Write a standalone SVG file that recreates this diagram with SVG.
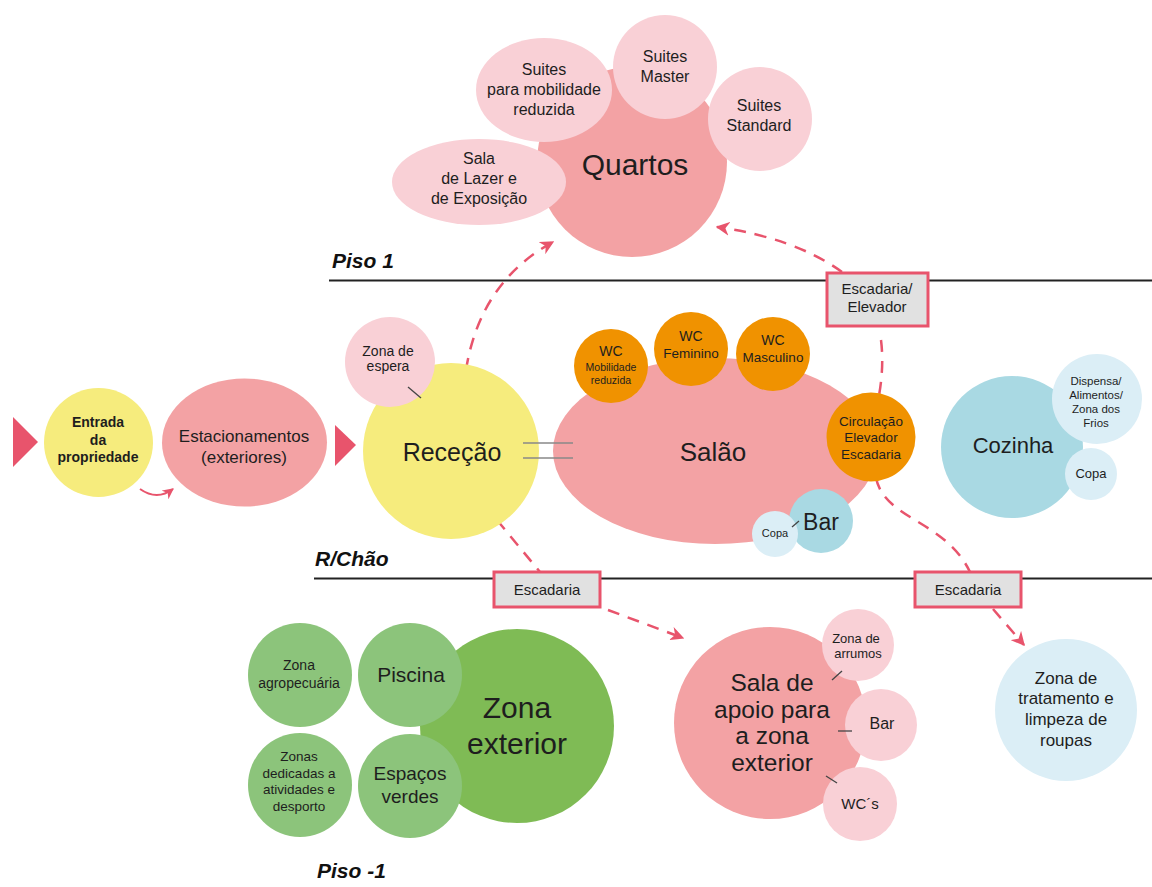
<svg xmlns="http://www.w3.org/2000/svg" width="1152" height="887" viewBox="0 0 1152 887">
<defs>
<style>
text{font-family:"Liberation Sans",Arial,sans-serif;fill:#1e1e1e;text-anchor:middle}
.lbl{font-weight:bold;font-style:italic;text-anchor:start;fill:#111}
.salmon{fill:#f3a2a4}
.lpink{fill:#f9d0d6}
.yellow{fill:#f6ec7d}
.orange{fill:#f09200}
.blue{fill:#a9d9e3}
.lblue{fill:#dbeef6}
.dgreen{fill:#7fbb55}
.lgreen{fill:#8cc47b}
.floor{stroke:#222;stroke-width:2;fill:none}
.dash{stroke:#e8546c;stroke-width:2.5;fill:none;stroke-dasharray:12 9}
.tick{stroke:#444;stroke-width:1.3}
.box{fill:#e1e1e1;stroke:#e8546c;stroke-width:3}
.tri{fill:#e8546c}
</style>
<marker id="ah" viewBox="0 0 10 10" refX="9" refY="5" markerWidth="14" markerHeight="14" markerUnits="userSpaceOnUse" orient="auto">
<path d="M0,0 L10,5 L0,10 L3,5 z" fill="#e8546c"/>
</marker>
<marker id="ahs" viewBox="0 0 10 10" refX="9" refY="5" markerWidth="11" markerHeight="11" markerUnits="userSpaceOnUse" orient="auto">
<path d="M0,0 L10,5 L0,10 L3,5 z" fill="#e8546c"/>
</marker>
</defs>
<rect width="1152" height="887" fill="#ffffff"/>

<g id="floors">
<line class="floor" x1="329" y1="280.5" x2="1152" y2="280.5"/>
<line class="floor" x1="314" y1="578.5" x2="1152" y2="578.5"/>
<text class="lbl" x="332" y="268" font-size="21">Piso 1</text>
<text class="lbl" x="315" y="566" font-size="21">R/Chão</text>
<text class="lbl" x="317" y="878" font-size="21">Piso -1</text>
</g>

<g id="connectors">
<path class="dash" d="M466 370 Q480 282 553 242" marker-end="url(#ah)"/>
<path class="dash" d="M842 272 Q795 238 717 227" marker-end="url(#ah)"/>
<path class="dash" d="M881 340 Q885 372 876 410"/>
<path class="dash" d="M876 478 C885 520 945 520 970 572"/>
<path class="dash" d="M993 609 L1024 645" marker-end="url(#ah)"/>
<path class="dash" d="M497 520 L540 572"/>
<path class="dash" d="M608 610 L683 638" marker-end="url(#ah)"/>
<path d="M140 489 Q157 501 173 489" stroke="#e8546c" stroke-width="2" fill="none" marker-end="url(#ahs)"/>
</g>

<g id="entry-arrows">
<polygon class="tri" points="13,417 38,442 13,467"/>
<polygon class="tri" points="335,425 356,445 335,466"/>
</g>

<g id="quartos">
<circle class="salmon" cx="632" cy="162" r="95"/>
<text x="635" y="175" font-size="30">Quartos</text>
</g>
<g id="suites-mobilidade">
<ellipse class="lpink" cx="544" cy="90" rx="68" ry="52"/>
<text x="544" y="75" font-size="16">Suites</text>
<text x="544" y="95" font-size="16">para mobilidade</text>
<text x="544" y="115" font-size="16">reduzida</text>
</g>
<g id="suites-master">
<circle class="lpink" cx="665" cy="67" r="52"/>
<text x="665" y="62" font-size="16">Suites</text>
<text x="665" y="82" font-size="16">Master</text>
</g>
<g id="suites-standard">
<circle class="lpink" cx="760" cy="119" r="52"/>
<text x="759" y="111" font-size="16">Suites</text>
<text x="759" y="131" font-size="16">Standard</text>
</g>
<g id="sala-lazer">
<ellipse class="lpink" cx="479" cy="182" rx="87" ry="43"/>
<text x="479" y="164" font-size="16">Sala</text>
<text x="479" y="184" font-size="16">de Lazer e</text>
<text x="479" y="204" font-size="16">de Exposição</text>
</g>

<g id="escadaria-elevador">
<rect class="box" x="827" y="273" width="101" height="53"/>
<text x="877" y="294" font-size="15">Escadaria/</text>
<text x="877" y="312" font-size="15">Elevador</text>
</g>

<g id="entrada">
<circle class="yellow" cx="98.5" cy="442.5" r="54.5"/>
<text x="98" y="427" font-size="14" font-weight="bold">Entrada</text>
<text x="98" y="445" font-size="14" font-weight="bold">da</text>
<text x="98" y="462" font-size="14" font-weight="bold">propriedade</text>
</g>
<g id="estacionamentos">
<ellipse class="salmon" cx="244.5" cy="442.5" rx="82.5" ry="64"/>
<text x="244" y="442" font-size="17">Estacionamentos</text>
<text x="244" y="463" font-size="17">(exteriores)</text>
</g>
<g id="rececao">
<circle class="yellow" cx="451" cy="451" r="88"/>
<text x="452" y="461" font-size="25">Receção</text>
</g>
<g id="zona-espera">
<circle class="lpink" cx="390" cy="362" r="45"/>
<text x="388" y="356" font-size="14">Zona de</text>
<text x="388" y="371" font-size="14">espera</text>
<line class="tick" x1="408" y1="387" x2="421" y2="398"/>
</g>

<g id="salao">
<ellipse class="salmon" cx="715" cy="451" rx="162" ry="93"/>
<text x="713" y="461" font-size="26">Salão</text>
</g>
<g id="rececao-salao-link">
<line x1="523" y1="443" x2="573" y2="443" stroke="#888" stroke-width="1.5"/>
<line x1="523" y1="458" x2="573" y2="458" stroke="#888" stroke-width="1.5"/>
</g>
<g id="wc-mobilidade">
<circle class="orange" cx="611" cy="366" r="37"/>
<text x="611" y="356" font-size="14">WC</text>
<text x="611" y="371" font-size="10.5">Mobilidade</text>
<text x="611" y="384" font-size="10.5">reduzida</text>
</g>
<g id="wc-feminino">
<circle class="orange" cx="691" cy="349" r="37"/>
<text x="691" y="341" font-size="14">WC</text>
<text x="691" y="358" font-size="13.5">Feminino</text>
</g>
<g id="wc-masculino">
<circle class="orange" cx="773" cy="354" r="37"/>
<text x="773" y="345" font-size="14">WC</text>
<text x="773" y="362" font-size="13.5">Masculino</text>
</g>
<g id="circulacao">
<circle class="orange" cx="871" cy="437" r="44.5"/>
<text x="871" y="426" font-size="13.5">Circulação</text>
<text x="871" y="442" font-size="13.5">Elevador</text>
<text x="871" y="459" font-size="13.5">Escadaria</text>
</g>
<g id="bar">
<circle class="blue" cx="821" cy="521" r="32"/>
<text x="821" y="530" font-size="23">Bar</text>
</g>
<g id="copa-bar">
<circle class="lblue" cx="775" cy="534" r="23"/>
<text x="775" y="537" font-size="11">Copa</text>
<line class="tick" x1="792" y1="527" x2="799" y2="521"/>
</g>

<g id="cozinha">
<circle class="blue" cx="1012" cy="447" r="71"/>
<text x="1013" y="453" font-size="22">Cozinha</text>
</g>
<g id="dispensa">
<circle class="lblue" cx="1097" cy="399" r="45"/>
<text x="1096" y="385" font-size="11.5">Dispensa/</text>
<text x="1096" y="399" font-size="11.5">Alimentos/</text>
<text x="1096" y="413" font-size="11.5">Zona dos</text>
<text x="1096" y="427" font-size="11.5">Frios</text>
</g>
<g id="copa-cozinha">
<circle class="lblue" cx="1091" cy="474" r="26"/>
<text x="1091" y="478" font-size="13">Copa</text>
</g>

<g id="escadaria-1">
<rect class="box" x="494" y="572" width="106" height="35"/>
<text x="547" y="595" font-size="15">Escadaria</text>
</g>
<g id="escadaria-2">
<rect class="box" x="915" y="572" width="106" height="35"/>
<text x="968" y="595" font-size="15">Escadaria</text>
</g>

<g id="zona-exterior">
<circle class="dgreen" cx="517" cy="726" r="97"/>
<text x="517" y="718" font-size="30">Zona</text>
<text x="517" y="754" font-size="30">exterior</text>
</g>
<g id="zona-agropecuaria">
<circle class="lgreen" cx="300" cy="675" r="52"/>
<text x="299" y="670" font-size="14">Zona</text>
<text x="299" y="688" font-size="14">agropecuária</text>
</g>
<g id="piscina">
<circle class="lgreen" cx="410" cy="675" r="52"/>
<text x="411" y="682" font-size="21">Piscina</text>
</g>
<g id="zonas-desporto">
<circle class="lgreen" cx="300" cy="785" r="52"/>
<text x="299" y="761" font-size="13.5">Zonas</text>
<text x="299" y="778" font-size="13.5">dedicadas a</text>
<text x="299" y="794" font-size="13.5">atividades e</text>
<text x="299" y="811" font-size="13.5">desporto</text>
</g>
<g id="espacos-verdes">
<circle class="lgreen" cx="410" cy="786" r="52"/>
<text x="410" y="780" font-size="19">Espaços</text>
<text x="410" y="803" font-size="19">verdes</text>
</g>

<g id="sala-apoio">
<circle class="salmon" cx="770" cy="723" r="96"/>
<text x="772" y="691" font-size="24.5">Sala de</text>
<text x="772" y="718" font-size="24.5">apoio para</text>
<text x="772" y="744" font-size="24.5">a zona</text>
<text x="772" y="771" font-size="24.5">exterior</text>
</g>
<g id="zona-arrumos">
<circle class="lpink" cx="858" cy="645" r="36"/>
<text x="856" y="643" font-size="13">Zona de</text>
<text x="858" y="658" font-size="13">arrumos</text>
<line class="tick" x1="832" y1="680" x2="842" y2="671"/>
</g>
<g id="bar-apoio">
<circle class="lpink" cx="881" cy="725" r="36"/>
<text x="882" y="729" font-size="16">Bar</text>
<line class="tick" x1="838" y1="731" x2="852" y2="731"/>
</g>
<g id="wcs">
<circle class="lpink" cx="860" cy="804" r="37"/>
<text x="860" y="809" font-size="15">WC´s</text>
<line class="tick" x1="826" y1="776" x2="837" y2="783"/>
</g>

<g id="zona-tratamento">
<circle class="lblue" cx="1066" cy="710" r="71"/>
<text x="1066" y="684" font-size="17">Zona de</text>
<text x="1066" y="704" font-size="17">tratamento e</text>
<text x="1066" y="725" font-size="17">limpeza de</text>
<text x="1066" y="746" font-size="17">roupas</text>
</g>
</svg>
